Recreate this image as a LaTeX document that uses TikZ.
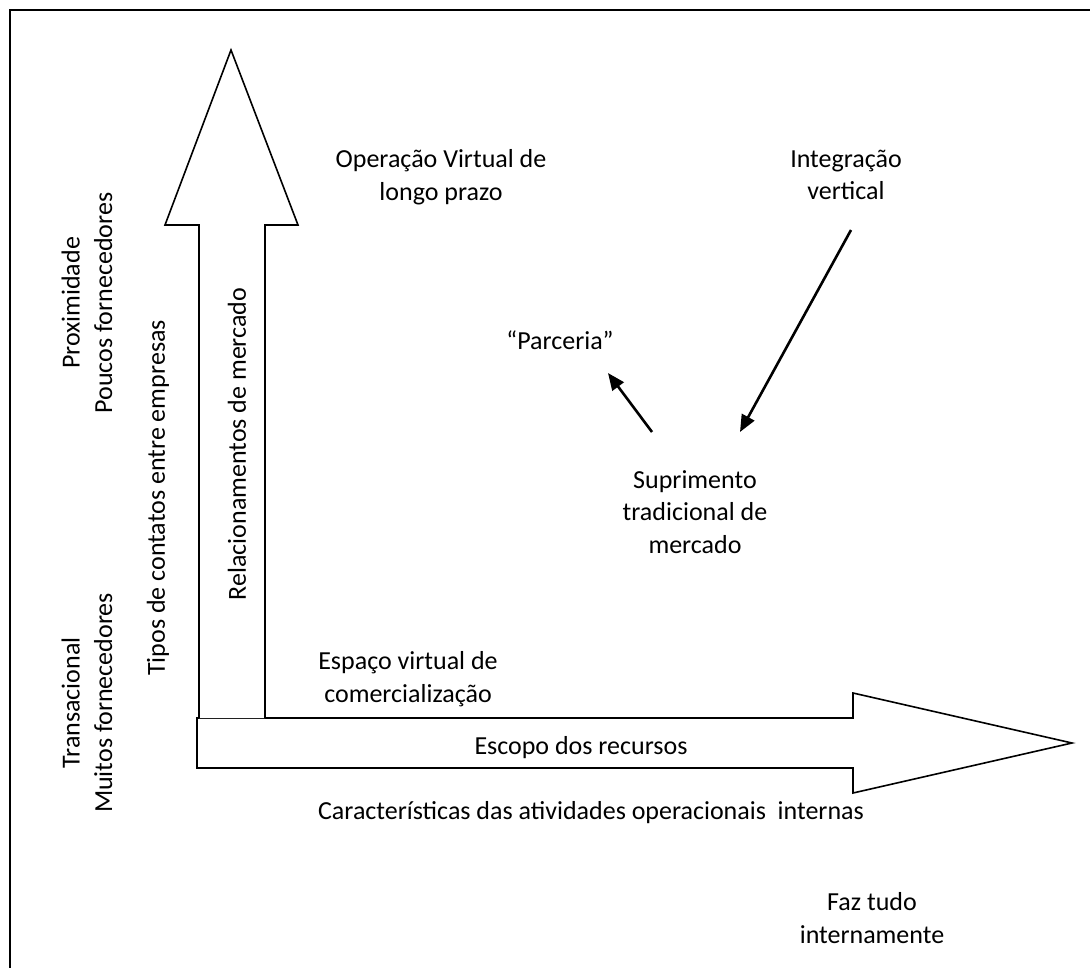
\documentclass[tikz,border=0pt]{standalone}
\usepackage{fontspec}
\setmainfont{Carlito}
\usetikzlibrary{arrows.meta}
\begin{document}
\begin{tikzpicture}[x=1pt,y=-1pt,
  lbl/.style={font=\fontsize{26}{32.5}\selectfont, align=center, inner sep=0pt},
  vlbl/.style={lbl, rotate=90},
  bigarrow/.style={draw=black, fill=white, line width=1.6pt, line join=miter},
  smallarrow/.style={line width=2.6pt, -{Triangle[length=17pt,width=14pt]}},
  frame/.style={line width=1.6pt}]
\useasboundingbox (0,0) rectangle (1090,967);

% outer frame (runs off the right and bottom edges)
\draw[frame] (10,1000) -- (10,10) -- (1120,10);

% horizontal axis arrow
\draw[bigarrow] (197,718) -- (853,718) -- (853,693) -- (1072,743)
  -- (853,793) -- (853,768) -- (197,768) -- cycle;
% vertical axis arrow
\draw[bigarrow] (199,718) -- (199,225) -- (165,225) -- (231,50)
  -- (298,225) -- (265,225) -- (265,718);

% axis texts
\node[lbl] (escopo) at (581,748) {Escopo dos recursos};
\node[lbl] (caract) at (591,813) {Características das atividades operacionais\ \ internas};
\node[vlbl] (relac) at (237,444) {Relacionamentos de mercado};
\node[vlbl] (tipos) at (158,498) {Tipos de contatos entre empresas};
\node[vlbl] (prox) at (87,303) {Proximidade\\Poucos fornecedores};
\node[vlbl] (trans) at (87,703) {Transacional\\Muitos fornecedores};

% positions in the plane
\node[lbl] (oper) at (441,177) {Operação Virtual de\\longo prazo};
\node[lbl] (integ) at (846,175) {Integração\\vertical};
\node[lbl] (parc) at (560,340) {“Parceria”};
\node[lbl] (supr) at (695,512) {Suprimento\\tradicional de\\mercado};
\node[lbl] (espaco) at (408,679) {Espaço virtual de\\comercialização};
\node[lbl] (faz) at (872,918) {Faz tudo\\internamente};

% movement arrows
\coordinate (parS) at (652,432);
\coordinate (parE) at (608,373);
\coordinate (intS) at (851,230);
\coordinate (intE) at (740,432);
\draw[smallarrow] (parS) -- (parE);
\draw[smallarrow] (intS) -- (intE);
\end{tikzpicture}
\end{document}
